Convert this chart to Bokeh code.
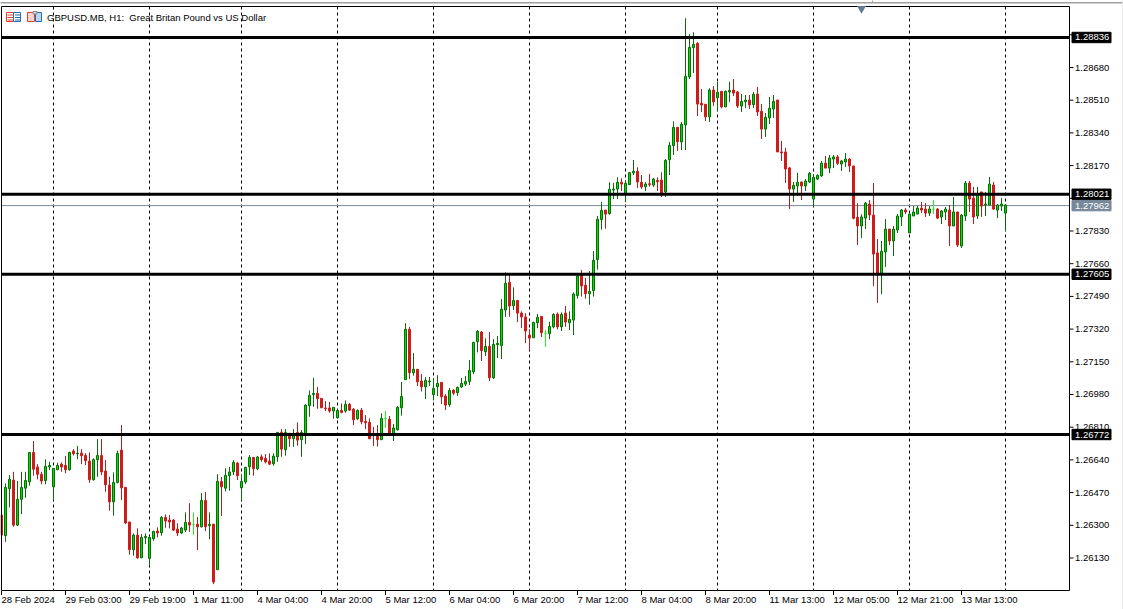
from bokeh.plotting import figure
from bokeh.core.properties import value
from bokeh.models import Range1d
from bokeh.embed import file_html
from bokeh.resources import INLINE

# Candles in points (price x 100000), one per hourly bar
direction = ("RGGRGGGGRR" "RGGGGRRGRG" "RRRGGRRRGG" "RRRGRGGGGR" "GRRRRGGRDR"
             "GRGRGRGGGR" "GGGRGRRRGG" "RGRGRGGGGR" "RRRGGRGRRG" "RRRRRGDRGG"
             "GGRGRRGGGG" "RRGRGGGGGG" "RGRGGGGRGR" "RRRGGRDGGR" "GRGGGRRGGG"
             "GRGGGRGGGR" "RGRGRRGGGR" "GGGGRRRGRG" "RGGRRGGRGR" "RGGGRRRRGG"
             "RGGGGGRGGR" "GGRRRGGRRR" "GGRGGGRGGG" "RRGDRGGRGR" "GGRRGRGGRG" "GG")
body_top = [
126353,126497,126539,126535,126435,126497,126533,126679,126679,126603,
126565,126606,126611,126596,126611,126618,126611,126679,126686,126675,
126675,126663,126634,126641,126663,126663,126582,126509,126523,126674,
126691,126497,126317,126249,126249,126237,126242,126237,126268,126270,
126341,126341,126327,126327,126280,126286,126315,126315,126304,126306,
126429,126429,126305,126306,126528,126528,126559,126577,126627,126623,
126528,126601,126653,126653,126655,126656,126648,126634,126660,126783,
126783,126783,126778,126778,126783,126783,126925,126975,126986,126986,
126960,126910,126910,126913,126897,126897,126929,126929,126903,126897,
126899,126840,126835,126778,126766,126856,126856,126852,126806,126913,
126970,127319,127319,127111,127111,127050,127053,127050,127012,127038,
127043,126972,127001,127003,127017,127038,127048,127105,127251,127308,
127305,127230,127230,127241,127246,127423,127558,127563,127469,127469,
127403,127383,127289,127355,127381,127386,127299,127334,127396,127398,
127396,127403,127371,127502,127596,127600,127548,127516,127678,127891,
127937,127939,128047,128048,128083,128083,128078,128133,128140,128140,
128083,128074,128076,128100,128093,128095,128197,128275,128369,128369,
128385,128634,128785,128800,128806,128494,128489,128563,128563,128551,
128556,128556,128561,128563,128553,128504,128511,128511,128541,128542,
128452,128421,128468,128504,128511,128241,128241,128158,128067,128083,
128085,128090,128130,128109,128119,128182,128183,128209,128215,128215,
128194,128204,128204,128168,127901,127903,127975,127970,127913,127716,
127724,127840,127840,127840,127908,127939,127939,127918,127929,127949,
127949,127944,127944,127943,127944,127934,127944,127939,127929,127929,
127913,128079,128079,128001,128017,128033,127970,128074,128069,127965,
127970,127965]
body_bottom = [
126249,126246,126490,126301,126301,126435,126493,126526,126592,126565,
126530,126532,126603,126500,126589,126603,126589,126589,126672,126672,
126662,126636,126537,126537,126641,126577,126511,126422,126422,126523,
126495,126312,126173,126173,126131,126131,126235,126128,126230,126260,
126261,126322,126317,126275,126260,126260,126275,126301,126304,126292,
126292,126292,126298,126005,126069,126500,126493,126558,126578,126558,
126495,126525,126604,126594,126594,126641,126629,126618,126620,126656,
126696,126693,126750,126750,126743,126745,126778,126922,126979,126958,
126911,126906,126894,126894,126859,126887,126894,126899,126849,126854,
126838,126833,126750,126769,126745,126745,126856,126769,126778,126797,
126911,127057,127093,127093,127046,127020,127020,127046,126979,127020,
126968,126925,126927,126987,126989,127019,127034,127048,127098,127254,
127208,127202,127067,127067,127239,127234,127419,127440,127442,127403,
127383,127310,127273,127275,127353,127301,127299,127296,127332,127332,
127332,127357,127353,127367,127494,127544,127504,127504,127520,127681,
127889,127918,127920,128043,128048,128074,128022,128071,128132,128085,
128059,128060,128071,128069,128086,128022,128033,128201,128274,128294,
128293,128381,128631,128783,128490,128485,128423,128423,128501,128522,
128475,128475,128553,128547,128480,128480,128502,128485,128487,128449,
128360,128360,128418,128464,128241,128236,128152,128048,128048,128064,
128064,128064,128085,127996,128100,128116,128157,128157,128204,128182,
128178,128189,128168,127896,127856,127856,127897,127913,127710,127610,
127606,127721,127778,127778,127835,127903,127929,127820,127908,127918,
127939,127923,127923,127943,127897,127903,127929,127856,127856,127757,
127752,127908,127996,127903,127908,127960,127965,127965,127944,127939,
127960,127923]
highs = [
126353,126518,126561,126578,126530,126578,126578,126679,126738,126618,
126578,126643,126630,126596,126625,126627,126660,126682,126696,126712,
126696,126675,126679,126648,126748,126748,126639,126552,126575,126688,
126821,126497,126318,126258,126284,126254,126258,126244,126272,126289,
126348,126357,126353,126332,126310,126292,126367,126415,126367,126343,
126467,126473,126367,126306,126565,126551,126596,126603,126639,126630,
126565,126604,126665,126653,126660,126668,126670,126674,126674,126783,
126800,126800,126781,126800,126835,126795,126929,127001,127066,127019,
126960,126946,126941,126913,126903,126934,126949,126936,126910,126903,
126910,126873,126856,126812,126821,126882,126894,126868,126826,126920,
127045,127351,127331,127195,127111,127086,127071,127071,127066,127081,
127043,126982,127014,127007,127022,127066,127076,127159,127254,127315,
127310,127272,127305,127268,127284,127476,127615,127601,127537,127469,
127412,127402,127319,127358,127398,127386,127315,127358,127402,127407,
127407,127440,127412,127511,127601,127627,127586,127622,127726,127908,
127981,127939,128083,128080,128109,128104,128095,128137,128199,128161,
128121,128085,128126,128106,128109,128135,128204,128293,128400,128369,
128397,128936,128854,128863,128811,128568,128489,128572,128584,128605,
128556,128561,128605,128620,128558,128542,128537,128537,128553,128579,
128490,128443,128527,128537,128511,128298,128262,128163,128085,128132,
128085,128100,128137,128126,128125,128194,128220,128225,128225,128225,
128199,128235,128209,128168,127974,127917,127981,127991,128079,127788,
127778,127892,127840,127856,127918,127944,127949,127922,127960,127960,
127981,127975,127960,127991,127949,127939,127955,127965,128007,127929,
127918,128090,128090,128059,128059,128033,128033,128111,128085,127970,
128001,127970]
lows = [
126249,126214,126393,126292,126296,126358,126443,126506,126558,126539,
126513,126513,126587,126429,126587,126578,126570,126584,126663,126644,
126618,126613,126521,126532,126552,126561,126474,126376,126350,126518,
126431,126306,126147,126142,126126,126131,126202,126088,126220,126237,
126246,126287,126284,126270,126244,126254,126265,126266,126249,126171,
126289,126270,126228,125994,126069,126348,126476,126480,126561,126535,
126429,126514,126561,126558,126587,126630,126622,126613,126610,126630,
126656,126662,126708,126708,126714,126656,126722,126864,126916,126906,
126911,126894,126885,126854,126854,126882,126885,126894,126821,126847,
126825,126800,126748,126712,126709,126745,126807,126769,126738,126792,
126870,127057,127060,127078,127024,126996,126956,127024,126949,126972,
126930,126899,126916,126977,126972,127014,127024,127029,127086,127199,
127154,127180,127050,127060,127169,127164,127383,127384,127419,127357,
127325,127247,127211,127275,127325,127279,127227,127268,127324,127319,
127310,127332,127315,127289,127478,127489,127478,127447,127489,127629,
127837,127842,127915,127996,127996,128038,127979,128071,128121,128054,
128048,128038,128060,128059,128038,128007,128007,128121,128225,128246,
128251,128251,128620,128651,128428,128449,128402,128397,128480,128454,
128468,128475,128501,128532,128469,128449,128469,128464,128469,128428,
128308,128319,128386,128418,128241,128194,128080,127944,127981,128012,
127991,128038,128080,127956,128095,128112,128157,128131,128157,128173,
128142,128163,128137,127891,127757,127794,127840,127887,127544,127456,
127502,127643,127757,127700,127820,127856,127918,127820,127908,127918,
127923,127903,127908,127918,127892,127866,127887,127752,127856,127747,
127742,127882,127929,127866,127892,127903,127908,127965,127939,127897,
127934,127830]
assert len(direction) == len(body_top) == len(body_bottom) == len(highs) == len(lows) == 252

title_text = "GBPUSD.MB, H1:\u00a0 Great Britan Pound vs US Dollar"
price_ticks = [1.26130, 1.26300, 1.26470, 1.26640, 1.26810, 1.26980, 1.27150, 1.27320, 1.27490,
               1.27660, 1.27830, 1.28000, 1.28170, 1.28340, 1.28510, 1.28680, 1.28850]
time_tick_bars = [0, 16, 32, 48, 64, 80, 96, 112, 128, 144, 160, 176, 192, 208, 224, 240]
time_tick_labels = ["28 Feb 2024", "29 Feb 03:00", "29 Feb 19:00", "1 Mar 11:00", "4 Mar 04:00",
                    "4 Mar 20:00", "5 Mar 12:00", "6 Mar 04:00", "6 Mar 20:00", "7 Mar 12:00",
                    "8 Mar 04:00", "8 Mar 20:00", "11 Mar 13:00", "12 Mar 05:00", "12 Mar 21:00",
                    "13 Mar 13:00"]
day_separator_bars = [13, 37, 60, 84, 108, 132, 156, 179, 203, 227, 251]
level_prices = [1.28836, 1.28021, 1.27605, 1.26772]
bid_price = 1.27962

W, H = 1123, 609
PPU = 19235.0
FONT = value("Liberation Sans")
FS = value("9.5px")

def px(x):
    return (x - 1.5) / 4
def py(y):
    return 1.28680 - (y - 67.5) / PPU

# the plotting frame fills the whole canvas so that scale, tags and labels can be drawn in it
# (half-pixel shift: Bokeh draws with a 0.5px translation)
p = figure(width=W, height=H, x_range=Range1d(px(0.5), px(W + 0.5)), y_range=Range1d(py(H + 0.5), py(0.5)),
           output_backend="svg", toolbar_location=None, x_axis_location=None, y_axis_location=None,
           min_border=0, outline_line_color=None)
p.grid.visible = False

L, R, T, B = 1.5, 1069.5, 6.5, 590.5

def q(l, r, t, b, fill, line=None):
    p.quad(left=[px(l)], right=[px(r)], top=[py(t)], bottom=[py(b)], fill_color=fill, line_color=line)

# separators and bid line, behind the candles
p.segment(day_separator_bars, [py(T)] * 11, day_separator_bars, [py(B)] * 11,
          line_color="black", line_width=1, line_dash="3 3")
p.segment([px(L)], [bid_price], [px(R)], [bid_price], line_color="#778899", line_width=1)

GREEN_LINE, GREEN_FILL, RED, LIME = "#0b6b0b", "#00dd00", "#cc1c1c", "#22ee22"
idx = list(range(252))
wick_col = [{"G": GREEN_LINE, "R": "#b21e1e", "D": LIME}[d] for d in direction]
line_col = [{"G": GREEN_LINE, "R": RED, "D": LIME}[d] for d in direction]
fill_col = [{"G": GREEN_FILL, "R": RED, "D": LIME}[d] for d in direction]
opens = [(b if d == "G" else t) / 1e5 for d, t, b in zip(direction, body_top, body_bottom)]
closes = [(t if d == "G" else b) / 1e5 for d, t, b in zip(direction, body_top, body_bottom)]
tops = [max(o, c) for o, c in zip(opens, closes)]
bots = [min(o, c) for o, c in zip(opens, closes)]
p.segment(idx, [h / 1e5 for h in highs], idx, [l / 1e5 for l in lows], line_color=wick_col, line_width=1)
p.vbar(x=idx, top=tops, bottom=bots, width=0.5, fill_color=fill_col, line_color=line_col, line_width=1)
q(0, 1, T, B, "white")

# horizontal levels
n = len(level_prices)
p.segment([px(L)] * n, level_prices, [px(R)] * n, level_prices, line_color="black", line_width=3)

# frame
p.segment([px(L), px(R), px(L), px(L)], [py(T), py(T), py(T), py(B)],
          [px(L), px(R), px(R), px(R)], [py(B), py(B), py(T), py(B)], line_color="black", line_width=1)

# price scale
m = len(price_ticks)
p.segment([px(R)] * m, price_ticks, [px(R + 4)] * m, price_ticks, line_color="black", line_width=1)
p.text([px(1075)] * m, price_ticks, text=[f"{t:.5f}" for t in price_ticks], text_color="black",
       text_font=FONT, text_font_size=FS, text_baseline="middle", text_align="left")

# time scale
k = len(time_tick_bars)
p.segment(time_tick_bars, [py(B)] * k, time_tick_bars, [py(B + 4.5)] * k, line_color="black", line_width=1)
p.text(time_tick_bars, [py(599.5)] * k, text=time_tick_labels, text_color="black",
       text_font=FONT, text_font_size=FS, text_baseline="middle", text_align="left")

# price tags
tag_prices = level_prices + [bid_price]
tag_colors = ["black"] * n + ["#778899"]
p.quad(left=[px(1072)] * (n + 1), right=[px(1111)] * (n + 1),
       top=[v + 5.2 / PPU for v in tag_prices], bottom=[v - 5.2 / PPU for v in tag_prices],
       fill_color=tag_colors, line_color=tag_colors)
p.text([px(1075)] * (n + 1), tag_prices, text=[f"{v:.5f}" for v in tag_prices], text_color="white",
       text_font=FONT, text_font_size=FS, text_baseline="middle", text_align="left")

# title
p.text([px(47)], [py(17)], text=[title_text], text_color="black", text_font=FONT, text_font_size=FS,
       text_baseline="middle", text_align="left")

# window furniture
p.scatter([px(861.5)], [py(8.5)], marker="inverted_triangle", size=9, fill_color="#5f7d97", line_color=None)
q(0, W, 2, 3.5, "#a0a0a0")
q(872, 873, 0, 2, "#a0a0a0")
q(1122, W, 0, H, "#e8e8e8")

# toolbar-style icons next to the title
q(6.5, 13.5, 12.5, 21.5, "white", "#e2402a")
q(13.5, 20.5, 12.5, 21.5, "white", "#1f6fb8")
for yy in (15, 17.5, 20):
    q(7.5, 13, yy - .5, yy + .5, "#e2402a")
    q(15, 20, yy - .5, yy + .5, "#1f6fb8")
q(27.5, 34.5, 12.5, 21.5, "#fbd5cc", "#e2402a")
q(35.5, 41.5, 12.5, 21.5, "#bcd8f0", "#1f6fb8")
q(33, 37, 11.5, 14, "#d0d0d0", "#909090")

open("out.html", "w").write(file_html(p, INLINE))
